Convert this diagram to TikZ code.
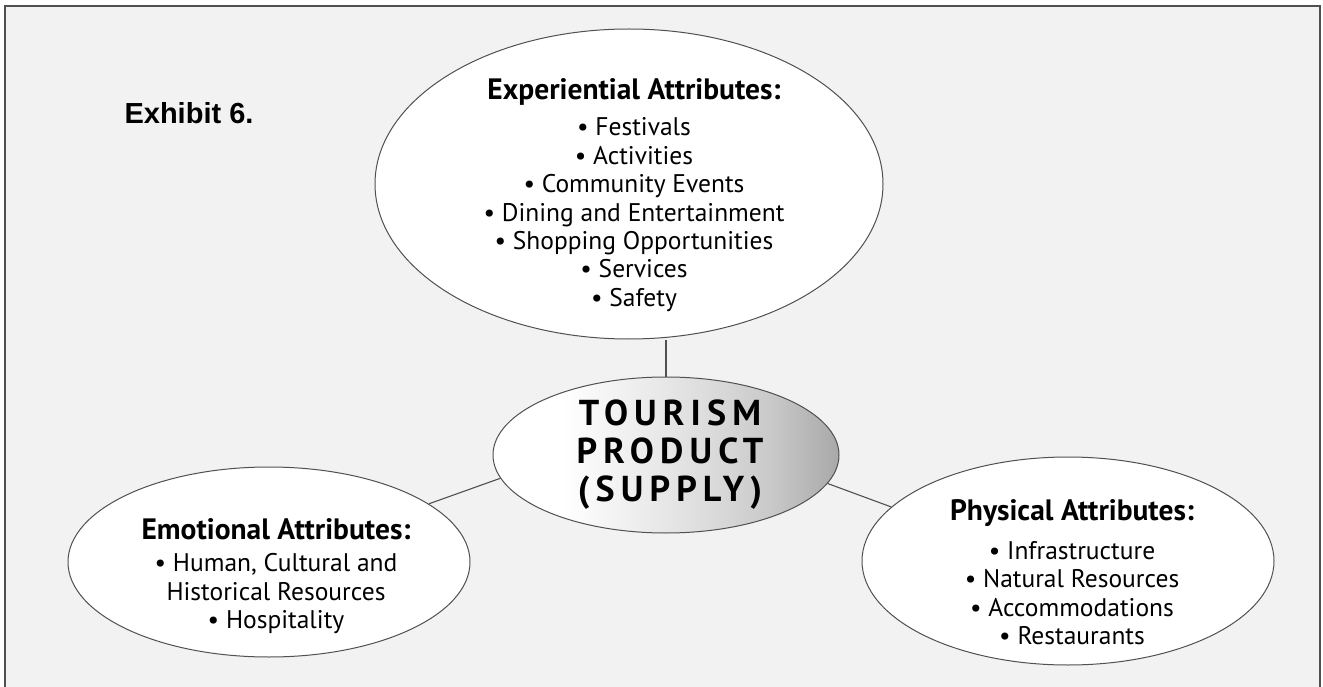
\documentclass[tikz,border=0pt]{standalone}
\usepackage{fontspec}
\setmainfont{PT Sans}
\newfontfamily\exhfont{Liberation Sans}
\newfontfamily\corefont[LetterSpace=17]{PT Sans}
\usetikzlibrary{shapes.geometric}
\definecolor{bgc}{HTML}{F2F2F2}
\definecolor{linec}{HTML}{505050}
\pgfdeclarehorizontalshading{coreshade}{100bp}{color(0bp)=(white); color(35bp)=(white);
  color(46bp)=(black!7); color(55bp)=(black!13); color(65bp)=(black!21); color(72bp)=(black!30); color(75bp)=(black!34); color(100bp)=(black!34)}
\tikzset{
  bubble/.style={ellipse, draw=linec, line width=1pt, fill=white, inner sep=0pt},
  listtext/.style={align=center, font=\fontsize{25.5}{28.4}\selectfont, text=black, inner sep=0pt},
  conn/.style={draw=linec, line width=1.1pt},
}
\newcommand{\ttl}[1]{{\fontsize{29.5}{30}\selectfont\bfseries #1}}
\begin{document}
\begin{tikzpicture}[x=1pt,y=-1pt]
\useasboundingbox (0,0) rectangle (1323,687);
\fill[bgc] (5,6) rectangle (1320,687);
\draw[linec, line width=1.5pt] (5,687) -- (5,6) -- (1320,6) -- (1320,687);
\node[font=\exhfont\bfseries\fontsize{29}{34}\selectfont, anchor=center] (exh) at (189,113) {Exhibit 6.};
% bubbles
\node[bubble, minimum width=508, minimum height=310] (exp) at (629,184) {};
\node[bubble, minimum width=402, minimum height=190] (emo) at (269,562) {};
\node[bubble, minimum width=412, minimum height=208] (phy) at (1068,561) {};
\node[ellipse, draw=linec, line width=1pt, inner sep=0pt, minimum width=346, minimum height=156,
      shading=coreshade] (core) at (666,455) {};
% connectors
\draw[conn] (core.north) -- (core.north |- exp.south);
\draw[conn] (emo.20) -- (core.188);
\draw[conn] (core.-10) -- (phy.163.5);
% texts
\node[listtext] (exptxt) at (634,195) {\ttl{Experiential Attributes:}\\[8pt]
  • Festivals\\ • Activities\\ • Community Events\\ • Dining and Entertainment\\
  • Shopping Opportunities\\ • Services\\ • Safety};
\node[listtext] (emotxt) at (276,576) {\ttl{Emotional Attributes:}\\[4pt]
  • Human, Cultural and\\ Historical Resources\\ • Hospitality};
\node[listtext] (phytxt) at (1072,572) {\ttl{Physical Attributes:}\\[11pt]
  • Infrastructure\\ • Natural Resources\\ • Accommodations\\ • Restaurants};
\node[align=center, inner sep=0pt, font=\corefont\bfseries\fontsize{36}{38}\selectfont] (coretxt) at (670,455)
  {TOURISM\\ PRODUCT\\ (SUPPLY)};
\end{tikzpicture}
\end{document}
